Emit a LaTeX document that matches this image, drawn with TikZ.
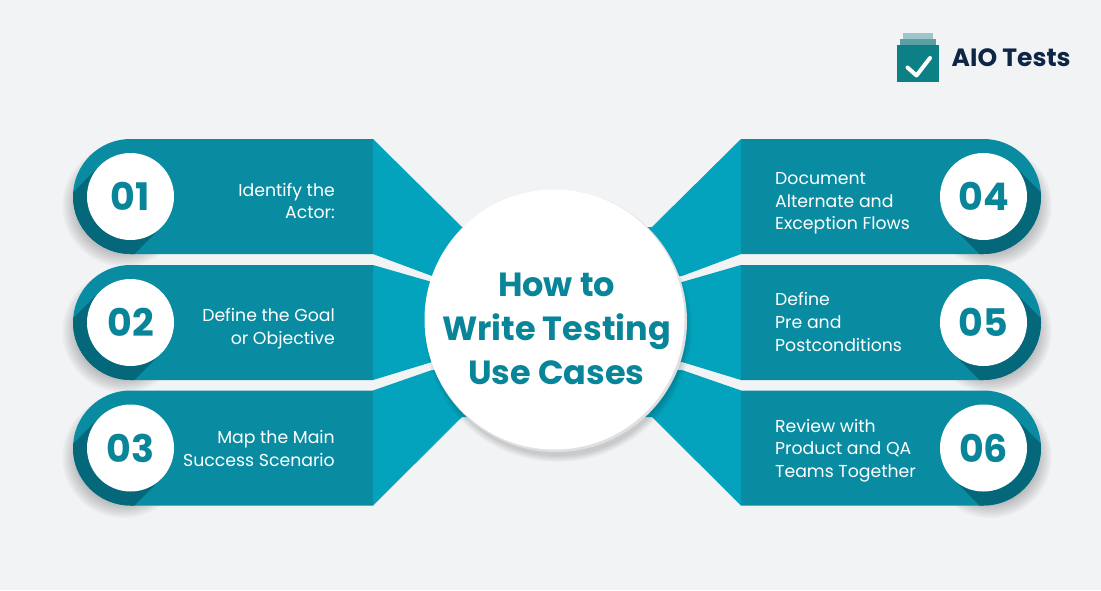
\documentclass[tikz,border=0pt]{standalone}
\usepackage{fontspec}
\setmainfont{Poppins}
\usetikzlibrary{calc}
\definecolor{bgc}{RGB}{241,243,245}
\definecolor{bandd}{RGB}{9,140,161}
\definecolor{bandl}{RGB}{3,163,190}
\definecolor{shadowd}{RGB}{4,104,122}
\definecolor{numc}{RGB}{9,133,153}
\definecolor{logot}{RGB}{13,128,133}
\definecolor{logom}{RGB}{92,158,162}
\definecolor{logol}{RGB}{156,198,201}
\definecolor{navy}{RGB}{14,38,70}
\tikzset{
 x=1pt,y=-1pt,
 numnode/.style={circle,fill=white,minimum size=87pt,inner sep=0pt,text=numc,font=\fontsize{38}{38}\selectfont\bfseries},
 lbl/.style={text=white,font=\fontsize{17.3}{22.7}\selectfont,inner sep=0pt},
 lblL/.style={lbl,align=right,anchor=east},
 lblR/.style={lbl,align=left,anchor=west},
 hub/.style={circle,fill=white,minimum size=260pt,inner sep=0pt},
 hubtext/.style={inner sep=0pt,text=numc,align=center,font=\fontsize{33.5}{44}\selectfont\bfseries},
}
\newcommand{\softshade}[3]{%
 \foreach \r in {0,2,...,14}{\fill[black,opacity=0.03] (#1,#2)++(#3*7,9) circle[radius=61-\r];}}
\newcommand{\bandL}[5]{%
 \fill[bandl] (373,#1-57.5) -- (#2,#3) -- (#2+40,#3) -- (#4+40,#5) -- (#4,#5) -- (373,#1+57.5) -- cycle;
 \fill[bandd] (373,#1-57.5) -- (130.5,#1-57.5) arc[start angle=-90,end angle=-270,radius=57.5] -- (373,#1+57.5) -- cycle;
 \begin{scope}
 \clip (130.5,#1-57.5) arc[start angle=-90,end angle=-270,radius=57.5] -- (373,#1+57.5) -- (373,#1-57.5) -- cycle;
 \fill[shadowd] (130.5-30.76,#1-30.76) -- ++(-80,80) -- ++(61.5,61.5) -- ++(80,-80) -- cycle;
 \end{scope}}
\newcommand{\bandR}[5]{%
 \fill[bandl] (741,#1-57.5) -- (#2,#3) -- (#2-40,#3) -- (#4-40,#5) -- (#4,#5) -- (741,#1+57.5) -- cycle;
 \fill[bandd] (741,#1-57.5) -- (983.5,#1-57.5) arc[start angle=-90,end angle=90,radius=57.5] -- (741,#1+57.5) -- cycle;
 \begin{scope}
 \clip (983.5,#1-57.5) arc[start angle=-90,end angle=90,radius=57.5] -- (741,#1+57.5) -- (741,#1-57.5) -- cycle;
 \fill[shadowd] (983.5+30.76,#1-30.76) -- ++(80,80) -- ++(-61.5,61.5) -- ++(-80,-80) -- cycle;
 \end{scope}}
\begin{document}
\begin{tikzpicture}
\useasboundingbox (0,0) rectangle (1101,590);
\fill[bgc] (0,0) rectangle (1101,590);
% soft shadows
\softshade{130.5}{196.5}{-1}\softshade{130.5}{322.5}{-1}\softshade{130.5}{448}{-1}
\softshade{983.5}{196.5}{1}\softshade{983.5}{322.5}{1}\softshade{983.5}{448}{1}
% bands
\bandL{196.5}{462}{227}{432}{276}
\bandL{322.5}{432}{282}{432}{362}
\bandL{448}{432}{370}{462}{417}
\bandR{196.5}{652}{227}{682}{276}
\bandR{322.5}{682}{282}{682}{362}
\bandR{448}{682}{370}{652}{417}
% hub
\foreach \r in {0,1,...,6}{\fill[black,opacity=0.025] (558,328) circle[radius=134-\r];}
\fill[black!12] (556,321) circle[radius=131];
\node[hub] (hub) at (554.5,319.5) {};
\node[hubtext] (hubt) at (556.5,328.5) {How to\\Write Testing\\Use Cases};
% number circles
\node[numnode] (n1) at (130.5,196.5) {01};
\node[numnode] (n2) at (130.5,322.5) {02};
\node[numnode] (n3) at (130.5,448) {03};
\node[numnode] (n4) at (983.5,196.5) {04};
\node[numnode] (n5) at (983.5,322.5) {05};
\node[numnode] (n6) at (983.5,448) {06};
% labels
\node[lblL] (l1) at (335,201) {Identify the\\Actor:};
\node[lblL] (l2) at (335,328.5) {Define the Goal\\or Objective};
\node[lblL] (l3) at (335,448.5) {Map the Main\\Success Scenario};
\node[lblR] (l4) at (775,203.5) {Document\\Alternate and\\Exception Flows};
\node[lblR] (l5) at (775,322) {Define\\Pre and\\Postconditions};
\node[lblR] (l6) at (775,450.5) {Review with\\Product and QA\\Teams Together};
% logo
\fill[logol] (903,33) rectangle (933,38.5);
\fill[logom] (900,39) rectangle (936,44.5);
\fill[logot] (897,45) rectangle (939,82);
\coordinate (c1) at (907.5,67.5);\coordinate (c2) at (916.5,75.5);\coordinate (c3) at (930,58);
\draw[white,line width=4pt,line cap=round,line join=round] (c1) -- (c2) -- (c3);
\node[text=navy,font=\fontsize{25}{25}\selectfont\bfseries,inner sep=0pt,anchor=west] (logo) at (951.5,58) {AIO Tests};
\end{tikzpicture}
\end{document}
